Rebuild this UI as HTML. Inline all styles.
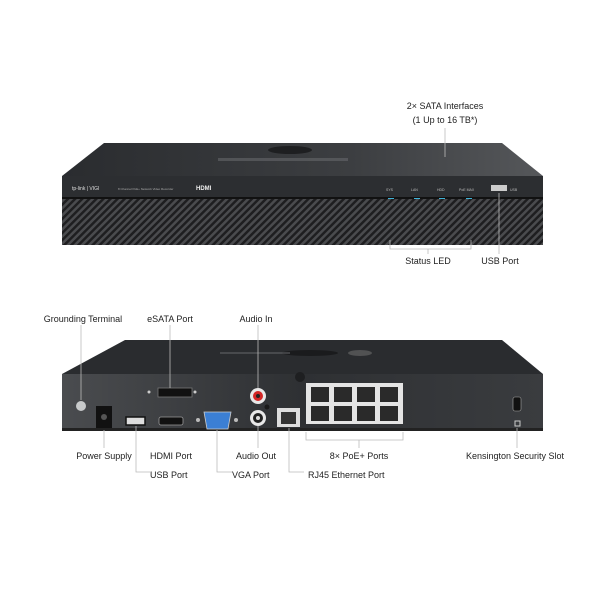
<!DOCTYPE html>
<html><head><meta charset="utf-8"><style>
html,body{margin:0;padding:0;background:#fff;}
svg{display:block;}
text{font-family:"Liberation Sans",sans-serif;fill:#222;}
</style></head><body>
<svg width="600" height="600" viewBox="0 0 600 600" xmlns="http://www.w3.org/2000/svg">
<defs>
<linearGradient id="top" x1="0" y1="0" x2="1" y2="0">
<stop offset="0" stop-color="#2a2c2f"/><stop offset="0.6" stop-color="#3c3e41"/><stop offset="1" stop-color="#55575a"/></linearGradient>
<linearGradient id="back" x1="0" y1="0" x2="1" y2="0">
<stop offset="0" stop-color="#4a4c4f"/><stop offset="0.5" stop-color="#2e3033"/><stop offset="1" stop-color="#3a3c3f"/></linearGradient>
<pattern id="grille" width="5" height="5" patternUnits="userSpaceOnUse" patternTransform="rotate(45)">
<rect width="5" height="5" fill="#1e1e20"/><rect width="2.5" height="5" fill="#4a4b4e"/></pattern>
</defs>

<polygon points="104,143 502,143 543,176 62,176" fill="url(#top)"/>
<ellipse cx="290" cy="150" rx="22" ry="4" fill="#1e1f21"/>
<rect x="218" y="158" width="130" height="3" fill="#66686b" opacity="0.6"/>
<rect x="62" y="176" width="481" height="22" fill="#2c2e31"/>
<rect x="62" y="197" width="481" height="2" fill="#111"/>
<text x="72" y="190" font-size="5" style="fill:#ddd">tp-link | VIGI</text>
<text x="118" y="190" font-size="3" style="fill:#aaa">8 Channel PoE+ Network Video Recorder</text>
<text x="196" y="190" font-size="6" font-weight="bold" style="fill:#eee">HDMI</text>
<g font-size="3.5">
<text x="386" y="191" style="fill:#bbb">SYS</text><text x="411" y="191" style="fill:#bbb">LAN</text><text x="437" y="191" style="fill:#bbb">HDD</text><text x="459" y="191" style="fill:#bbb">PoE MAX</text><text x="510" y="191" style="fill:#bbb">USB</text></g>
<rect x="491" y="185" width="16" height="6" fill="#ccc"/>
<g fill="#3fb4d8"><rect x="388" y="198" width="6" height="2"/><rect x="414" y="198" width="6" height="2"/><rect x="439" y="198" width="6" height="2"/><rect x="466" y="198" width="6" height="2"/></g>
<rect x="62" y="199" width="481" height="46" fill="url(#grille)"/>

<text x="445" y="109" font-size="9" text-anchor="middle">2× SATA Interfaces</text>
<text x="445" y="123" font-size="9" text-anchor="middle">(1 Up to 16 TB*)</text>
<line x1="445" y1="128" x2="445" y2="157" stroke="#bbb" stroke-width="0.8"/>
<polyline points="390,240 390,249 471,249 471,240" fill="none" stroke="#bbb" stroke-width="0.8"/>
<line x1="428" y1="249" x2="428" y2="254" stroke="#bbb" stroke-width="0.8"/>
<line x1="499" y1="193" x2="499" y2="254" stroke="#bbb" stroke-width="0.8"/>
<text x="428" y="264" font-size="9" text-anchor="middle">Status LED</text>
<text x="500" y="264" font-size="9" text-anchor="middle">USB Port</text>

<polygon points="125,340 502,340 543,374 62,374" fill="#2a2c2f"/>
<ellipse cx="310" cy="353" rx="28" ry="3" fill="#1a1b1d"/>
<rect x="220" y="352" width="70" height="2" fill="#66686b" opacity="0.5"/>
<ellipse cx="360" cy="353" rx="12" ry="3" fill="#777" opacity="0.5"/>
<rect x="62" y="374" width="481" height="56" fill="url(#back)"/>
<rect x="62" y="428" width="481" height="3" fill="#222"/>
<circle cx="81" cy="406" r="5" fill="#c8cacb"/>
<rect x="96" y="406" width="16" height="22" fill="#111"/><circle cx="104" cy="417" r="3" fill="#555"/>
<rect x="126" y="417" width="19" height="8" fill="#ddd" stroke="#111" stroke-width="1.5"/>
<rect x="159" y="417" width="24" height="8" rx="2" fill="#111" stroke="#999" stroke-width="0.8"/>
<rect x="158" y="388" width="34" height="9" fill="#111" stroke="#777" stroke-width="0.8"/>
<circle cx="149" cy="392" r="1.5" fill="#ccc"/><circle cx="195" cy="392" r="1.5" fill="#ccc"/>
<circle cx="198" cy="420" r="2" fill="#bbb"/><circle cx="236" cy="420" r="2" fill="#bbb"/>
<polygon points="204,412 231,412 228,429 207,429" fill="#3b7fd4" stroke="#ccc" stroke-width="0.8"/>
<circle cx="258" cy="396" r="8" fill="#e8e8e8"/><circle cx="258" cy="396" r="5" fill="#d32626"/><circle cx="258" cy="396" r="2" fill="#222"/>
<circle cx="258" cy="418" r="8" fill="#e8e8e8"/><circle cx="258" cy="418" r="5" fill="#222"/><circle cx="258" cy="418" r="2" fill="#ddd"/>
<circle cx="267" cy="407" r="2.5" fill="#1a1a1a"/>
<rect x="277" y="408" width="23" height="19" fill="#ddd"/><rect x="281" y="412" width="15" height="12" fill="#333"/>
<circle cx="300" cy="377" r="5" fill="#1e1f21"/>
<rect x="306" y="383" width="97" height="41" fill="#e4e4e4"/>
<g fill="#2a2a2a">
<rect x="311" y="387" width="18" height="15"/><rect x="334" y="387" width="18" height="15"/><rect x="357" y="387" width="18" height="15"/><rect x="380" y="387" width="18" height="15"/>
<rect x="311" y="406" width="18" height="15"/><rect x="334" y="406" width="18" height="15"/><rect x="357" y="406" width="18" height="15"/><rect x="380" y="406" width="18" height="15"/></g>
<rect x="513" y="397" width="8" height="14" rx="2" fill="#111" stroke="#aaa" stroke-width="0.6"/>
<rect x="515" y="421" width="5" height="5" fill="none" stroke="#ccc" stroke-width="1"/>

<g stroke="#bbb" stroke-width="0.8" fill="none">
<line x1="81" y1="325" x2="81" y2="400"/>
<line x1="170" y1="325" x2="170" y2="388"/>
<line x1="258" y1="325" x2="258" y2="388"/>
<line x1="104" y1="430" x2="104" y2="448"/>
<polyline points="136,426 136,472 150,472"/>
<polyline points="217,430 217,472 232,472"/>
<line x1="258" y1="426" x2="258" y2="448"/>
<polyline points="289,428 289,472 304,472"/>
<polyline points="306,432 306,440 403,440 403,432"/>
<line x1="359" y1="440" x2="359" y2="448"/>
<line x1="517" y1="428" x2="517" y2="448"/>
</g>
<g font-size="9">
<text x="83" y="322" text-anchor="middle">Grounding Terminal</text>
<text x="170" y="322" text-anchor="middle">eSATA Port</text>
<text x="256" y="322" text-anchor="middle">Audio In</text>
<text x="104" y="459" text-anchor="middle">Power Supply</text>
<text x="171" y="459" text-anchor="middle">HDMI Port</text>
<text x="256" y="459" text-anchor="middle">Audio Out</text>
<text x="359" y="459" text-anchor="middle">8× PoE+ Ports</text>
<text x="515" y="459" text-anchor="middle">Kensington Security Slot</text>
<text x="150" y="478">USB Port</text>
<text x="232" y="478">VGA Port</text>
<text x="308" y="478">RJ45 Ethernet Port</text>
</g>
</svg>
</body></html>
